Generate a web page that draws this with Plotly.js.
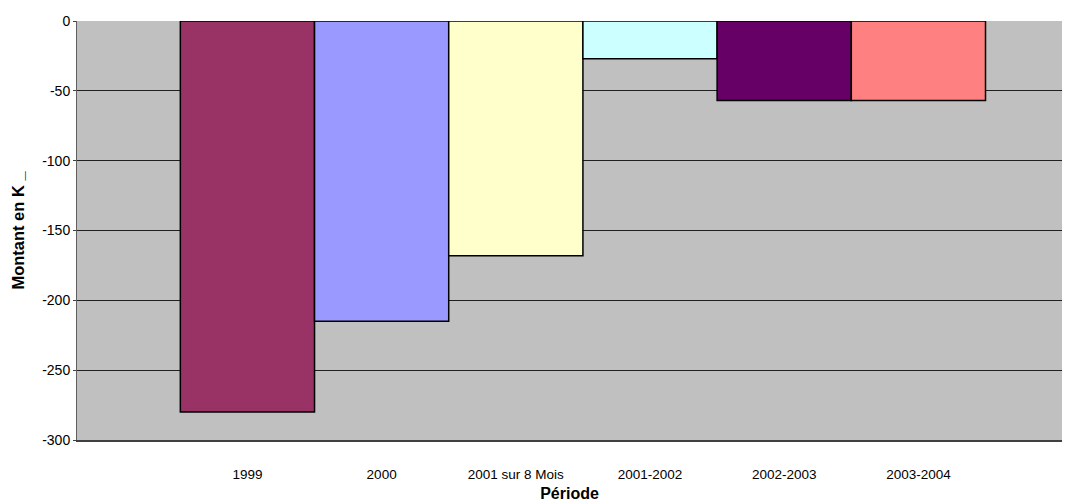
<!DOCTYPE html>
<html>
<head>
<meta charset="utf-8">
<script src="https://cdn.plot.ly/plotly-3.0.1.min.js"></script>
<style>html,body{margin:0;padding:0;background:#fff;}#chart{width:1077px;height:504px;}</style>
</head>
<body>
<div id="chart"></div>
<script>
const categories = ["1999", "2000", "2001 sur 8 Mois", "2001-2002", "2002-2003", "2003-2004"];
const values = [-280, -215, -168, -27, -57, -57];
const barColors = ["#993366", "#9999FF", "#FFFFCC", "#CCFFFF", "#660066", "#FF8080"];
const yTicks = [0, -50, -100, -150, -200, -250, -300];

const positions = categories.map((c, i) => i);

const trace = {
  type: "bar",
  x: positions,
  y: values,
  width: 1,
  marker: { color: barColors, line: { color: "#000000", width: 1.5 } },
  hoverinfo: "x+y"
};

const font = "Liberation Sans, Arial, sans-serif";
const layout = {
  width: 1077,
  height: 504,
  margin: { l: 77, r: 15, t: 21, b: 64 },
  paper_bgcolor: "#ffffff",
  plot_bgcolor: "#C0C0C0",
  showlegend: false,
  bargap: 0,
  font: { family: font, color: "#000000", size: 14 },
  xaxis: {
    range: [-1.27, 6.07],
    tickmode: "array",
    tickvals: positions,
    ticktext: categories,
    ticks: "",
    ticklabelstandoff: 21,
    showgrid: false,
    zeroline: false,
    showline: true,
    linecolor: "#404040",
    linewidth: 2,
    mirror: false,
    tickfont: { family: font, size: 13.5, color: "#000" },
    title: { text: "Période", font: { family: font, size: 16, color: "#000", weight: "bold" }, standoff: 7 }
  },
  yaxis: {
    range: [-300, 0],
    tickmode: "array",
    tickvals: yTicks,
    ticktext: yTicks.map(String),
    ticks: "outside",
    ticklen: 3,
    tickcolor: "#404040",
    showgrid: true,
    gridcolor: "#202020",
    gridwidth: 1,
    zeroline: false,
    showline: true,
    linecolor: "#606060",
    linewidth: 1,
    tickfont: { family: font, size: 14, color: "#000" },
    title: { text: "Montant en K _", font: { family: font, size: 16.5, color: "#000", weight: "bold" }, standoff: 13 }
  }
};

Plotly.newPlot("chart", [trace], layout, { displayModeBar: false, staticPlot: true });
</script>
</body>
</html>
